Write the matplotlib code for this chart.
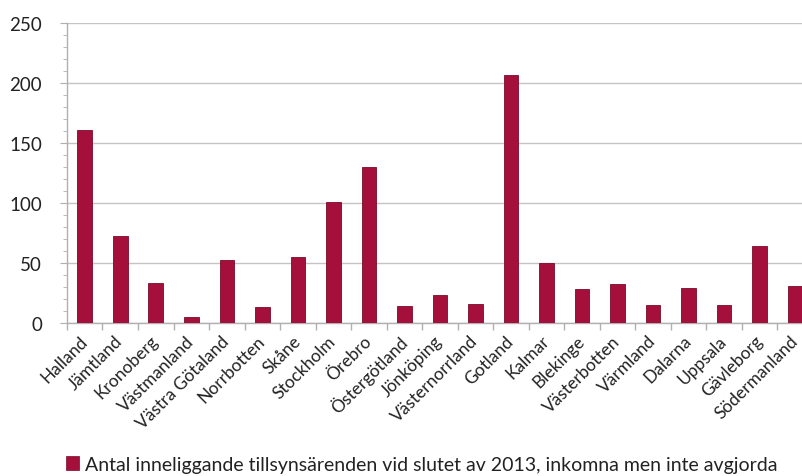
import matplotlib
matplotlib.use("Agg")
import matplotlib.pyplot as plt
from matplotlib.ticker import MultipleLocator, FixedLocator
from matplotlib.patches import Patch

plt.rcParams['font.family'] = ['Lato', 'DejaVu Sans']

categories = ["Halland", "Jämtland", "Kronoberg", "Västmanland", "Västra Götaland",
              "Norrbotten", "Skåne", "Stockholm", "Örebro", "Östergötland",
              "Jönköping", "Västernorrland", "Gotland", "Kalmar", "Blekinge",
              "Västerbotten", "Värmland", "Dalarna", "Uppsala", "Gävleborg",
              "Södermanland"]
values = [161, 72, 33, 5, 52, 13, 55, 101, 130, 14,
          23, 16, 207, 50, 28, 32, 15, 29, 15, 64, 31]
legend_label = "Antal inneliggande tillsynsärenden vid slutet av 2013, inkomna men inte avgjorda"
yticks = [0, 50, 100, 150, 200, 250]

bar_color = "#A50F3B"

fig = plt.figure(figsize=(8.03, 4.77), dpi=100)
ax = fig.add_axes([0.0834, 0.3214, 0.929, 0.6276])

x = list(range(len(categories)))
ax.bar(x, values, width=0.41, color=bar_color, edgecolor="#7a0a28", linewidth=0.6, zorder=3)

ax.set_xlim(-0.5, len(categories) - 0.5)
ax.set_ylim(0, 250)
ax.set_yticks(yticks)
ax.yaxis.set_minor_locator(MultipleLocator(10))
ax.grid(axis='y', which='major', color='#c4c4c4', linewidth=1.0, zorder=0)

# x ticks at category boundaries, labels at centers
ax.xaxis.set_major_locator(FixedLocator([i - 0.5 for i in range(len(categories) + 1)]))
ax.xaxis.set_minor_locator(FixedLocator(x))
ax.set_xticklabels([])
ax.set_xticklabels(categories, minor=True, rotation=45, ha='right', va='center',
                   rotation_mode='anchor', fontsize=12.5, color='#222222')
ax.tick_params(axis='x', which='major', length=5, color='#b0b0b0', width=1)
ax.tick_params(axis='x', which='minor', length=0, pad=11)
ax.tick_params(axis='y', which='major', length=5, color='#b0b0b0', labelsize=13.5,
               labelcolor='#222222', pad=13)
ax.tick_params(axis='y', which='minor', length=3, color='#b0b0b0')

for s in ['top', 'right']:
    ax.spines[s].set_visible(False)
for s in ['left', 'bottom']:
    ax.spines[s].set_color('#b0b0b0')
    ax.spines[s].set_linewidth(1.0)

handle = Patch(facecolor=bar_color, edgecolor="#7a0a28", linewidth=0.5)
fig.legend([handle], [legend_label], loc='center', bbox_to_anchor=(0.525, 0.025),
           frameon=False, fontsize=14, handlelength=0.7, handleheight=0.7,
           handletextpad=0.3, labelcolor='#222222')

fig.savefig("out.png", dpi=100)
